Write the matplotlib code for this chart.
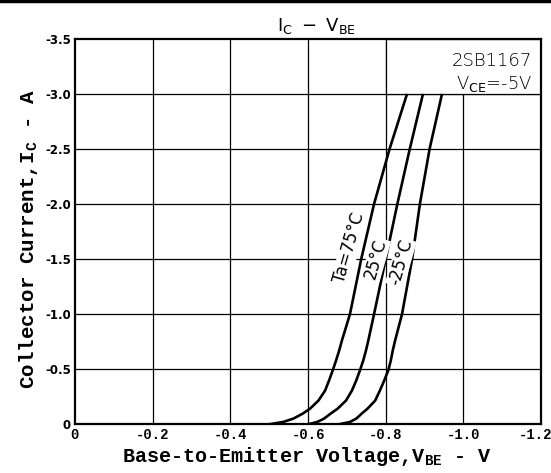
import matplotlib.pyplot as plt
from matplotlib.patches import Rectangle
from matplotlib.transforms import ScaledTranslation

plt.rcParams['mathtext.fontset'] = 'custom'
plt.rcParams['mathtext.rm'] = 'Liberation Mono:bold'
plt.rcParams['mathtext.sf'] = 'DejaVu Sans'

# I_C vs V_BE curves (same current levels for all three)
ic = [0.0, -0.021, -0.051, -0.096, -0.141, -0.216, -0.306, -0.396, -0.493, -0.577,
      -0.667, -0.757, -1.0, -1.5, -2.0, -2.5, -3.0]
vbe_75 = [-0.50, -0.536, -0.562, -0.586, -0.605, -0.627, -0.644, -0.654, -0.664, -0.672,
          -0.680, -0.687, -0.708, -0.737, -0.770, -0.810, -0.855]
vbe_25 = [-0.60, -0.624, -0.641, -0.658, -0.676, -0.698, -0.713, -0.724, -0.734, -0.742,
          -0.749, -0.755, -0.770, -0.800, -0.830, -0.862, -0.896]
vbe_m25 = [-0.68, -0.708, -0.724, -0.738, -0.753, -0.773, -0.785, -0.796, -0.807, -0.813,
           -0.818, -0.824, -0.842, -0.868, -0.888, -0.913, -0.945]

x_ticks = [0, -0.2, -0.4, -0.6, -0.8, -1.0, -1.2]
x_labels = ['0', '-0.2', '-0.4', '-0.6', '-0.8', '-1.0', '-1.2']
y_ticks = [0, -0.5, -1.0, -1.5, -2.0, -2.5, -3.0, -3.5]
y_labels = ['0', '-0.5', '-1.0', '-1.5', '-2.0', '-2.5', '-3.0', '-3.5']

fig = plt.figure(figsize=(5.51, 4.73), dpi=100)
ax = fig.add_axes([0.136, 0.103, 0.846, 0.815])

ax.set_xlim(0, -1.2)
ax.set_ylim(0, -3.5)

# grid
for xv in x_ticks[1:-1]:
    ax.axvline(xv, color='black', lw=0.9, zorder=1)
for yv in y_ticks[1:-1]:
    ax.axhline(yv, color='black', lw=0.9, zorder=1)

# part number box in the top right cell
ax.add_patch(Rectangle((-0.8, -3.0), -0.4, -0.5, facecolor='white',
                       edgecolor='black', lw=0.9, zorder=2))
ax.text(-1.177, -3.30, '2SB1167', ha='right', va='center', fontsize=13,
        family='DejaVu Sans', fontweight='light', zorder=3)
ax.text(-1.177, -3.09, r'V$_{\mathsf{CE}}$=-5V', ha='right', va='center', fontsize=13,
        family='DejaVu Sans', fontweight='light', zorder=3)

for xs in [vbe_75, vbe_25, vbe_m25]:
    ax.plot(xs, ic, color='black', lw=1.9, zorder=4, solid_capstyle='butt')

ax.text(-0.707, -1.6, 'Ta=75°C', rotation=74, ha='center', va='center',
        fontsize=12, family='DejaVu Sans', zorder=5,
        bbox=dict(facecolor='white', edgecolor='none', pad=0.5))
ax.text(-0.775, -1.5, '25°C', rotation=74, ha='center', va='center',
        fontsize=12, family='DejaVu Sans', zorder=5,
        bbox=dict(facecolor='white', edgecolor='none', pad=0.5))
ax.text(-0.839, -1.47, '-25°C', rotation=74, ha='center', va='center',
        fontsize=12, family='DejaVu Sans', zorder=5,
        bbox=dict(facecolor='white', edgecolor='none', pad=0.5))

ax.set_xticks(x_ticks)
ax.set_xticklabels(x_labels, family='Liberation Mono', fontweight='bold', fontsize=10)
ax.set_yticks(y_ticks)
ax.set_yticklabels(y_labels, family='DejaVu Sans', fontweight='bold', fontsize=8.5)
ax.tick_params(length=0, pad=3)
last = ax.get_xticklabels()[-1]
last.set_transform(last.get_transform() + ScaledTranslation(-6 / 100, 0, fig.dpi_scale_trans))

for s in ax.spines.values():
    s.set_linewidth(1.6)

fig.text(0.574, 0.945, r'$\mathsf{I_C\ -\ V_{BE}}$', ha='center', va='center', fontsize=13)
fig.text(0.557, 0.034, r'Base-to-Emitter Voltage,V$_{\mathrm{BE}}$ - V', ha='center',
         va='center', fontsize=14.5, family='Liberation Mono', fontweight='bold')
fig.text(0.052, 0.495, r'Collector Current,I$_{\mathrm{C}}$ - A', ha='center',
         va='center', rotation=90, fontsize=15, family='Liberation Mono', fontweight='bold')

# scan edge along the top
fig.add_artist(plt.Line2D([0, 1], [0.997, 0.997], color='black', lw=2.5))

fig.savefig('out.png', dpi=100)
